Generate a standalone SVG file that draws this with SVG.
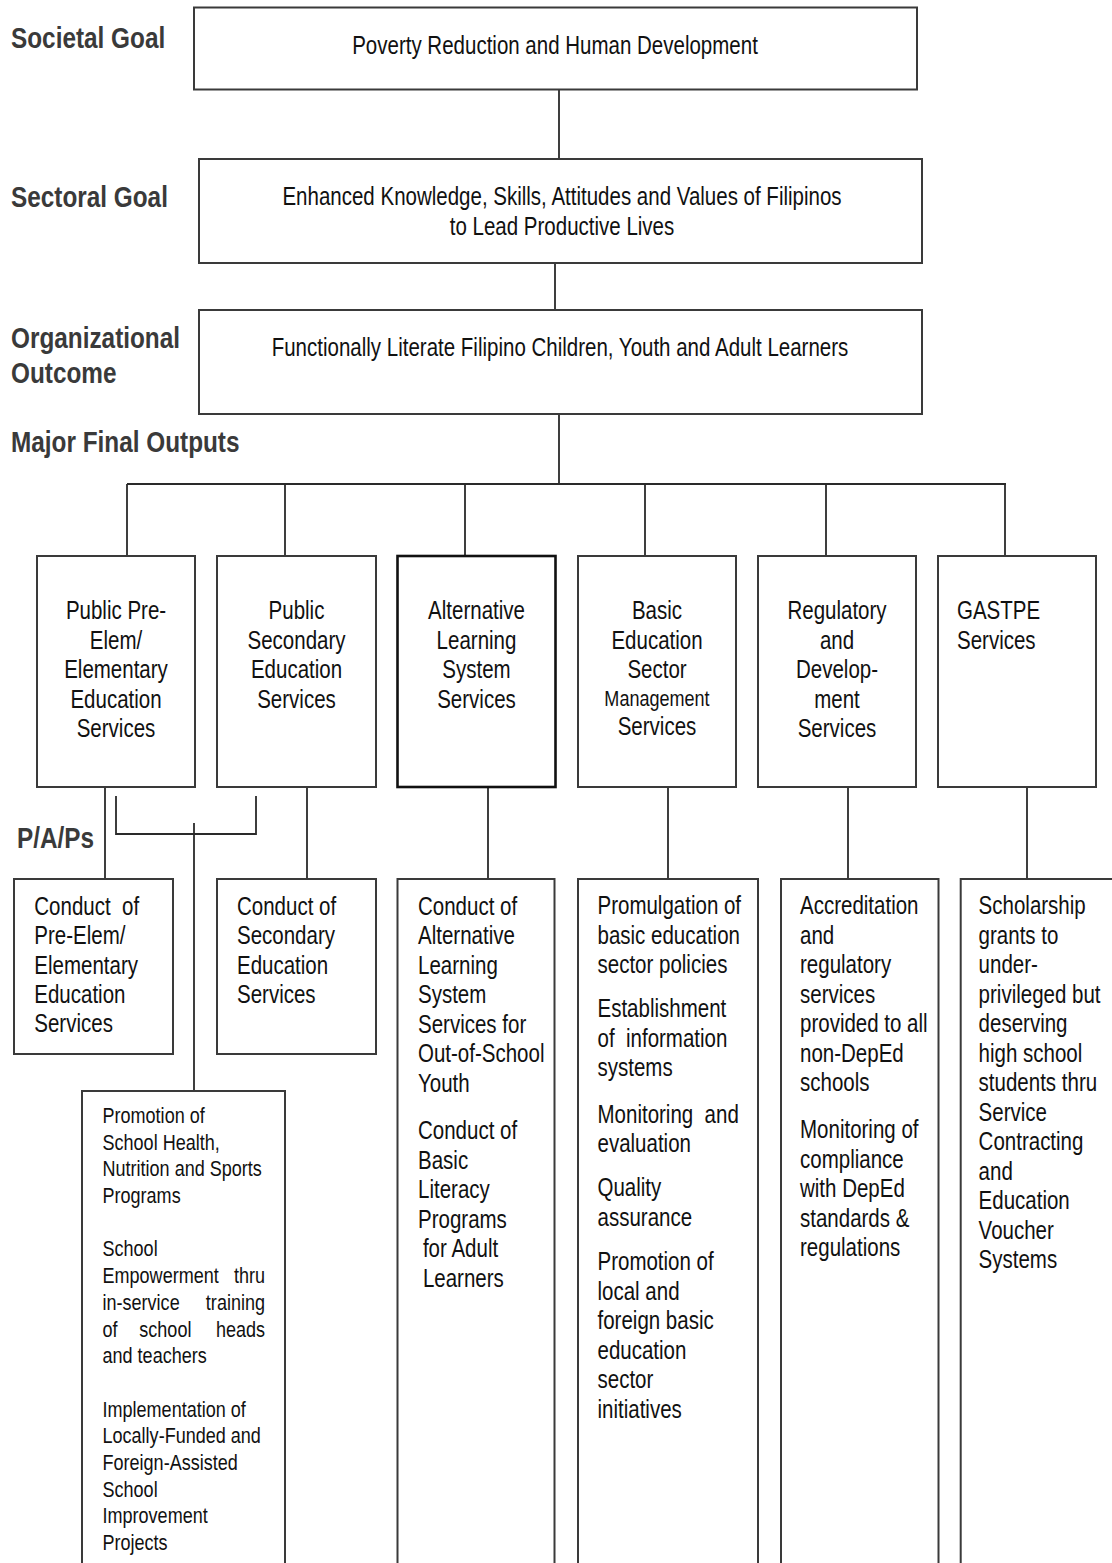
<svg xmlns="http://www.w3.org/2000/svg" width="1112" height="1563" viewBox="0 0 1112 1563">
<style>
.bg{fill:#fff}
.box{fill:#fff;stroke:#3a3a3a;stroke-width:2}
.boxk{fill:#fff;stroke:#111;stroke-width:2.6}
.conn path{fill:none;stroke:#2a2a2a;stroke-width:1.8}
text{font-family:"Liberation Sans",Arial,sans-serif}
.lbl{font-weight:bold;font-size:29.7px;fill:#3a3a3a}
.t{font-size:25px;fill:#111}
.s{font-size:22px;fill:#111}
.pre{white-space:pre}
</style>
<rect class="bg" x="0" y="0" width="1112" height="1563"/>

<g id="labels">
<text class="lbl" transform="translate(11,0) scale(0.82,1)" x="0" y="48">Societal Goal</text>
<text class="lbl" transform="translate(11,0) scale(0.82,1)" x="0" y="207">Sectoral Goal</text>
<text class="lbl" transform="translate(11,0) scale(0.82,1)"><tspan x="0" y="348">Organizational</tspan><tspan x="0" y="383">Outcome</tspan></text>
<text class="lbl" transform="translate(11,0) scale(0.82,1)" x="0" y="452">Major Final Outputs</text>
<text class="lbl" transform="translate(17,0) scale(0.82,1)" x="0" y="848">P/A/Ps</text>
</g>

<g class="conn" id="connectors">
<path d="M559,89 V159"/>
<path d="M555,263 V310"/>
<path d="M559,414 V484"/>
<path d="M127,484 H1006"/>
<path d="M127,484 V556"/>
<path d="M285,484 V556"/>
<path d="M465,484 V556"/>
<path d="M645,484 V556"/>
<path d="M826,484 V556"/>
<path d="M1005,484 V556"/>
<path d="M105,787 V879"/>
<path d="M116,796 V834 H256 V796"/>
<path d="M194,823 V1091"/>
<path d="M307,787 V879"/>
<path d="M488,787 V879"/>
<path d="M668,787 V879"/>
<path d="M848,787 V879"/>
<path d="M1027,787 V879"/>
</g>

<g id="societal-goal">
<rect class="box" x="194" y="7.5" width="723" height="82"/>
<text class="t" transform="translate(555,0) scale(0.82,1)" text-anchor="middle" x="0" y="54">Poverty Reduction and Human Development</text>
</g>

<g id="sectoral-goal">
<rect class="box" x="199" y="159" width="723" height="104"/>
<text class="t" transform="translate(562,0) scale(0.82,1)" text-anchor="middle"><tspan x="0" y="205">Enhanced Knowledge, Skills, Attitudes and Values of Filipinos</tspan><tspan x="0" y="235">to Lead Productive Lives</tspan></text>
</g>

<g id="organizational-outcome">
<rect class="box" x="199" y="310" width="723" height="104"/>
<text class="t" transform="translate(560,0) scale(0.82,1)" text-anchor="middle" x="0" y="356">Functionally Literate Filipino Children, Youth and Adult Learners</text>
</g>

<g id="mfo-elementary">
<rect class="box" x="37" y="556" width="158" height="231"/>
<text class="t" transform="translate(116,0) scale(0.82,1)" text-anchor="middle"><tspan x="0" y="619.3">Public Pre-</tspan><tspan x="0" y="648.8">Elem/</tspan><tspan x="0" y="678.3">Elementary</tspan><tspan x="0" y="707.8">Education</tspan><tspan x="0" y="737.3">Services</tspan></text>
</g>

<g id="mfo-secondary">
<rect class="box" x="217" y="556" width="159" height="231"/>
<text class="t" transform="translate(296.5,0) scale(0.82,1)" text-anchor="middle"><tspan x="0" y="619.3">Public</tspan><tspan x="0" y="648.8">Secondary</tspan><tspan x="0" y="678.3">Education</tspan><tspan x="0" y="707.8">Services</tspan></text>
</g>

<g id="mfo-als">
<rect class="boxk" x="397.5" y="556" width="158" height="231"/>
<text class="t" transform="translate(476.5,0) scale(0.82,1)" text-anchor="middle"><tspan x="0" y="619.3">Alternative</tspan><tspan x="0" y="648.8">Learning</tspan><tspan x="0" y="678.3">System</tspan><tspan x="0" y="707.8">Services</tspan></text>
</g>

<g id="mfo-management">
<rect class="box" x="578" y="556" width="158" height="231"/>
<text class="t" transform="translate(657,0) scale(0.82,1)" text-anchor="middle"><tspan x="0" y="619.3">Basic</tspan><tspan x="0" y="648.8">Education</tspan><tspan x="0" y="678.3">Sector</tspan><tspan class="s" x="0" y="706.5">Management</tspan><tspan x="0" y="735.3">Services</tspan></text>
</g>

<g id="mfo-regulatory">
<rect class="box" x="758" y="556" width="158" height="231"/>
<text class="t" transform="translate(837,0) scale(0.82,1)" text-anchor="middle"><tspan x="0" y="619.3">Regulatory</tspan><tspan x="0" y="648.8">and</tspan><tspan x="0" y="678.3">Develop-</tspan><tspan x="0" y="707.8">ment</tspan><tspan x="0" y="737.3">Services</tspan></text>
</g>

<g id="mfo-gastpe">
<rect class="box" x="938" y="556" width="158" height="231"/>
<text class="t" transform="translate(957,0) scale(0.82,1)"><tspan x="0" y="619.3">GASTPE</tspan><tspan x="0" y="648.8">Services</tspan></text>
</g>

<g id="pap-elementary">
<rect class="box" x="14" y="879" width="159" height="175"/>
<text class="t" transform="translate(34.3,0) scale(0.82,1)"><tspan class="pre" x="0" y="915">Conduct  of</tspan><tspan x="0" y="944.3">Pre-Elem/</tspan><tspan x="0" y="973.6">Elementary</tspan><tspan x="0" y="1002.9">Education</tspan><tspan x="0" y="1032.2">Services</tspan></text>
</g>

<g id="pap-secondary">
<rect class="box" x="217" y="879" width="159" height="175"/>
<text class="t" transform="translate(237,0) scale(0.82,1)"><tspan x="0" y="915">Conduct of</tspan><tspan x="0" y="944.3">Secondary</tspan><tspan x="0" y="973.6">Education</tspan><tspan x="0" y="1002.9">Services</tspan></text>
</g>

<g id="pap-shared">
<rect class="box" x="82" y="1091" width="203" height="520"/>
<text class="s" transform="translate(102.5,0) scale(0.82,1)"><tspan x="0" y="1123">Promotion of</tspan><tspan x="0" y="1149.7">School Health,</tspan><tspan x="0" y="1176.3">Nutrition and Sports</tspan><tspan x="0" y="1203">Programs</tspan><tspan x="0" y="1256.5">School</tspan><tspan x="0" y="1283.2">Empowerment</tspan><tspan x="198.2" text-anchor="end">thru</tspan><tspan x="0" y="1309.9">in-service</tspan><tspan x="198.2" text-anchor="end">training</tspan><tspan x="0" y="1336.6">of</tspan><tspan x="44.9">school</tspan><tspan x="198.2" text-anchor="end">heads</tspan><tspan x="0" y="1363.3">and teachers</tspan><tspan x="0" y="1416.7">Implementation of</tspan><tspan x="0" y="1443.4">Locally-Funded and</tspan><tspan x="0" y="1470.1">Foreign-Assisted</tspan><tspan x="0" y="1496.8">School</tspan><tspan x="0" y="1523.5">Improvement</tspan><tspan x="0" y="1550.2">Projects</tspan></text>
</g>

<g id="pap-als">
<rect class="box" x="397.5" y="879" width="157" height="730"/>
<text class="t" transform="translate(418,0) scale(0.82,1)"><tspan x="0" y="915">Conduct of</tspan><tspan x="0" y="944.5">Alternative</tspan><tspan x="0" y="974">Learning</tspan><tspan x="0" y="1003.5">System</tspan><tspan x="0" y="1033">Services for</tspan><tspan x="0" y="1062.5">Out-of-School</tspan><tspan x="0" y="1092">Youth</tspan><tspan x="0" y="1139.5">Conduct of</tspan><tspan x="0" y="1169">Basic</tspan><tspan x="0" y="1198.5">Literacy</tspan><tspan x="0" y="1228">Programs</tspan><tspan x="6" y="1257.5">for Adult</tspan><tspan x="6" y="1287">Learners</tspan></text>
</g>

<g id="pap-management">
<rect class="box" x="578" y="879" width="180" height="730"/>
<text class="t" transform="translate(597.5,0) scale(0.82,1)"><tspan x="0" y="914.5">Promulgation of</tspan><tspan x="0" y="944">basic education</tspan><tspan x="0" y="973.5">sector policies</tspan><tspan x="0" y="1017.5">Establishment</tspan><tspan class="pre" x="0" y="1047">of  information</tspan><tspan x="0" y="1076.5">systems</tspan><tspan class="pre" x="0" y="1123">Monitoring  and</tspan><tspan x="0" y="1152">evaluation</tspan><tspan x="0" y="1196.5">Quality</tspan><tspan x="0" y="1226">assurance</tspan><tspan x="0" y="1270.5">Promotion of</tspan><tspan x="0" y="1300">local and</tspan><tspan x="0" y="1329.5">foreign basic</tspan><tspan x="0" y="1359">education</tspan><tspan x="0" y="1388.5">sector</tspan><tspan x="0" y="1418">initiatives</tspan></text>
</g>

<g id="pap-regulatory">
<rect class="box" x="781" y="879" width="157.5" height="730"/>
<text class="t" transform="translate(800,0) scale(0.82,1)"><tspan x="0" y="914.5">Accreditation</tspan><tspan x="0" y="944">and</tspan><tspan x="0" y="973.5">regulatory</tspan><tspan x="0" y="1003">services</tspan><tspan x="0" y="1032.5">provided to all</tspan><tspan x="0" y="1062">non-DepEd</tspan><tspan x="0" y="1091.5">schools</tspan><tspan x="0" y="1138.5">Monitoring of</tspan><tspan x="0" y="1168">compliance</tspan><tspan x="0" y="1197.5">with DepEd</tspan><tspan x="0" y="1227">standards &amp;</tspan><tspan x="0" y="1256.5">regulations</tspan></text>
</g>

<g id="pap-gastpe">
<rect class="box" x="960.7" y="879" width="200" height="730"/>
<text class="t" transform="translate(978.6,0) scale(0.82,1)"><tspan x="0" y="914.5">Scholarship</tspan><tspan x="0" y="944">grants to</tspan><tspan x="0" y="973.5">under-</tspan><tspan x="0" y="1003">privileged but</tspan><tspan x="0" y="1032.5">deserving</tspan><tspan x="0" y="1062">high school</tspan><tspan x="0" y="1091.5">students thru</tspan><tspan x="0" y="1121">Service</tspan><tspan x="0" y="1150.5">Contracting</tspan><tspan x="0" y="1180">and</tspan><tspan x="0" y="1209.5">Education</tspan><tspan x="0" y="1239">Voucher</tspan><tspan x="0" y="1268.5">Systems</tspan></text>
</g>
</svg>
